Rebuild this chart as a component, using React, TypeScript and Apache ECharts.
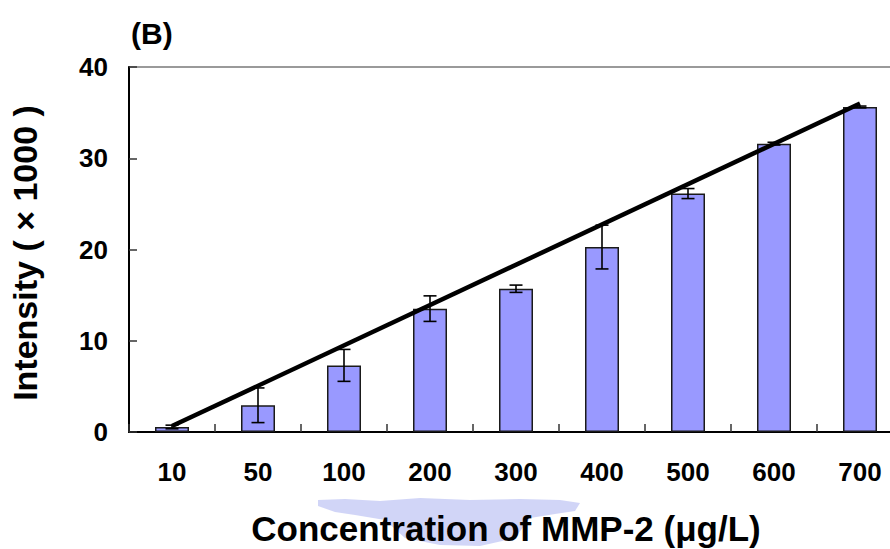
import React, { useEffect, useRef } from "react";
import * as echarts from "echarts";

const categories = ["10", "50", "100", "200", "300", "400", "500", "600", "700"];
const intensity = [0.55, 2.93, 7.3, 13.52, 15.7, 20.27, 26.13, 31.6, 35.62];
const errors = [0.2, 1.9, 1.75, 1.4, 0.4, 2.4, 0.55, 0.15, 0.1];
const trendStart = 0.65;
const trendEnd = 36.0;
const yTicks = { min: 0, max: 40, interval: 10 };

const FONT = "'Liberation Sans', Arial, Helvetica, sans-serif";

export default function App() {
  const ref = useRef<HTMLDivElement>(null);
  useEffect(() => {
    if (!ref.current) return;
    const chart = echarts.init(ref.current, undefined, { renderer: "svg" });
    const trend = categories.map((_, i) =>
      i === 0 ? trendStart : i === categories.length - 1 ? trendEnd : null
    );
    chart.setOption({
      animation: false,
      backgroundColor: "#ffffff",
      textStyle: { fontFamily: FONT },
      grid: {
        left: 129,
        top: 67,
        width: 774,
        height: 365,
        show: true,
        borderColor: "#7a7a7a",
        borderWidth: 1.5,
        backgroundColor: "transparent",
        containLabel: false,
        outerBoundsMode: "none",
      },
      xAxis: {
        type: "category",
        data: categories,
        axisLine: { lineStyle: { color: "#000", width: 2 } },
        axisTick: {
          show: true,
          inside: true,
          length: 8,
          interval: 0,
          lineStyle: { color: "#333", width: 1.5 },
        },
        axisLabel: {
          interval: 0,
          margin: 27,
          fontSize: 26,
          fontWeight: "bold",
          color: "#000",
          fontFamily: FONT,
        },
        splitLine: { show: false },
      },
      yAxis: {
        type: "value",
        min: yTicks.min,
        max: yTicks.max,
        interval: yTicks.interval,
        axisLine: { show: true, lineStyle: { color: "#000", width: 2 } },
        axisTick: {
          show: true,
          inside: true,
          length: 8,
          lineStyle: { color: "#333", width: 1.5 },
        },
        axisLabel: {
          margin: 21,
          fontSize: 26,
          fontWeight: "bold",
          color: "#000",
          fontFamily: FONT,
        },
        splitLine: { show: false },
      },
      graphic: [
        {
          type: "polygon",
          z: 0,
          shape: {
            points: [
              [318, 500], [345, 499], [380, 501], [420, 498], [470, 500],
              [520, 499], [560, 500], [580, 503], [575, 511], [555, 514],
              [530, 518], [515, 538], [480, 546], [440, 545], [405, 538],
              [385, 520], [355, 515], [335, 512], [318, 506],
            ],
          },
          style: { fill: "#b3b9f2", opacity: 0.6 },
        },
        {
          type: "text",
          left: 131,
          top: 18,
          z: 10,
          style: {
            text: "(B)",
            fontSize: 30,
            fontWeight: "bold",
            fill: "#000",
            fontFamily: FONT,
          },
        },
        {
          type: "text",
          x: 25,
          y: 253,
          rotation: Math.PI / 2,
          z: 10,
          style: {
            text: "Intensity ( \u00d7 1000 )",
            fontSize: 34,
            fontWeight: "bold",
            fill: "#000",
            fontFamily: FONT,
            textAlign: "center",
            textVerticalAlign: "middle",
          },
        },
        {
          type: "text",
          x: 506,
          y: 528,
          z: 10,
          style: {
            text: "Concentration of MMP-2 (\u03bcg/L)",
            fontSize: 35,
            fontWeight: "bold",
            fill: "#000",
            fontFamily: FONT,
            textAlign: "center",
            textVerticalAlign: "middle",
          },
        },
      ],
      series: [
        {
          type: "bar",
          data: intensity,
          barWidth: 34,
          itemStyle: { color: "#9999ff", borderColor: "#1a1a1a", borderWidth: 1.5 },
          z: 2,
        },
        {
          type: "custom",
          z: 3,
          data: categories.map((_, i) => [i, intensity[i], errors[i]]),
          encode: { x: 0, y: 1 },
          renderItem: (params: any, api: any) => {
            const x = api.value(0);
            const v = api.value(1);
            const e = api.value(2);
            const top = api.coord([x, v + e]);
            const bot = api.coord([x, v - e]);
            const hw = 6.5;
            const style = { stroke: "#000", lineWidth: 1.6 };
            return {
              type: "group",
              children: [
                { type: "line", shape: { x1: top[0], y1: top[1], x2: bot[0], y2: bot[1] }, style },
                { type: "line", shape: { x1: top[0] - hw, y1: top[1], x2: top[0] + hw, y2: top[1] }, style },
                { type: "line", shape: { x1: bot[0] - hw, y1: bot[1], x2: bot[0] + hw, y2: bot[1] }, style },
              ],
            };
          },
        },
        {
          type: "line",
          z: 4,
          data: trend,
          connectNulls: true,
          symbol: "none",
          lineStyle: { color: "#000", width: 4.5 },
        },
      ],
    });
    return () => chart.dispose();
  }, []);
  return (
    <div
      ref={ref}
      style={{ position: "absolute", left: 0, top: 0, width: 890, height: 549 }}
    />
  );
}
